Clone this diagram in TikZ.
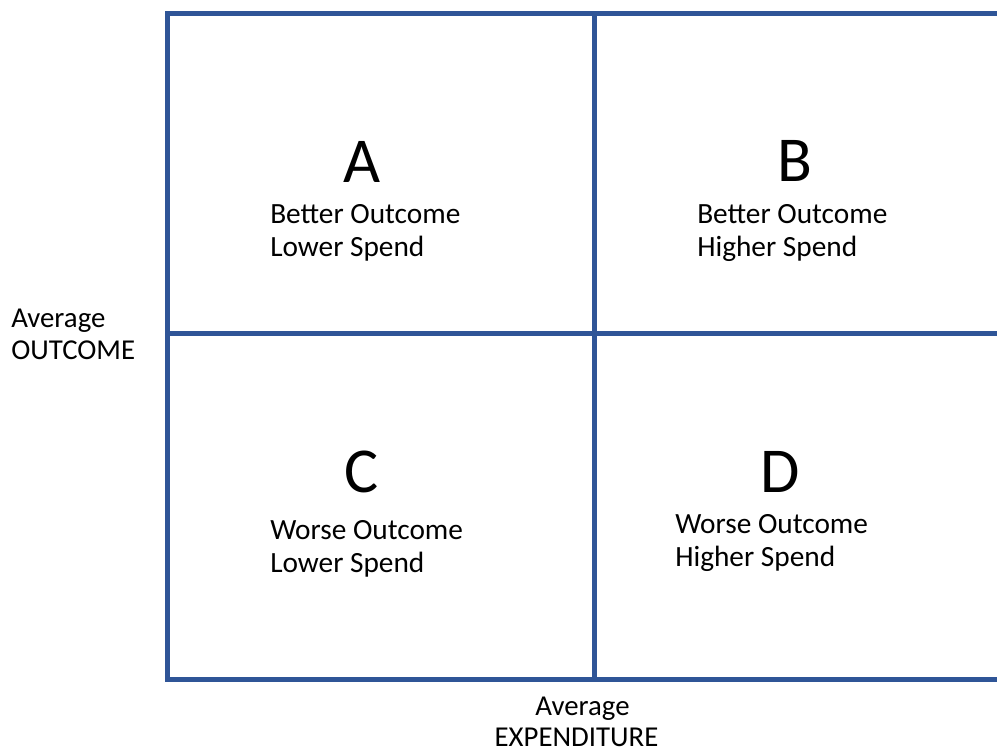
\documentclass[tikz,border=0pt]{standalone}
\usepackage{fontspec}
\setmainfont{Carlito}
\definecolor{gridblue}{RGB}{47,85,151}
\begin{document}
\begin{tikzpicture}
  [x=0.75pt,y=-0.75pt,
   grid/.style={draw=gridblue,line width=3.75pt},
   letter/.style={font=\fontsize{48}{58}\selectfont,inner sep=0pt,anchor=base},
   desc/.style={font=\fontsize{22}{24.75}\selectfont,align=left,inner sep=0pt,anchor=base west},
   axis/.style={font=\fontsize{21.6}{24}\selectfont,inner sep=0pt,anchor=base}]
  \useasboundingbox (0,0) rectangle (997,749);

  % frame, open on the right
  \coordinate (tl) at (167.5,13.5);
  \coordinate (tr) at (997,13.5);
  \coordinate (bl) at (167.5,679.5);
  \coordinate (br) at (997,679.5);
  \coordinate (mt) at (594,13.5);
  \coordinate (mb) at (594,679.5);
  \coordinate (ml) at (167.5,333.5);
  \coordinate (mr) at (997,333.5);
  \draw[grid] (tr) -- (tl) -- (bl) -- (br);
  \draw[grid] (ml) -- (mr);
  \draw[grid] (mt) -- (mb);

  % quadrants (desc nodes sit on the baseline of their last line)
  \node[letter] (qa) at (362,182) {A};
  \node[desc] (da) at (270,256) {Better Outcome\\Lower Spend};
  \node[letter] (qb) at (795,181) {B};
  \node[desc] (db) at (697,256) {Better Outcome\\Higher Spend};
  \node[letter] (qc) at (362,492) {C};
  \node[desc] (dc) at (270,572) {Worse Outcome\\Lower Spend};
  \node[letter] (qd) at (780,492) {D};
  \node[desc] (dd) at (675,566) {Worse Outcome\\Higher Spend};

  % axis labels
  \node[axis,anchor=base west,align=left] (yaxis) at (11,359) {Average\\OUTCOME};
  \node[axis] (xavg) at (582.5,715) {Average};
  \node[axis] (xexp) at (576.5,746.5) {EXPENDITURE};
\end{tikzpicture}
\end{document}
